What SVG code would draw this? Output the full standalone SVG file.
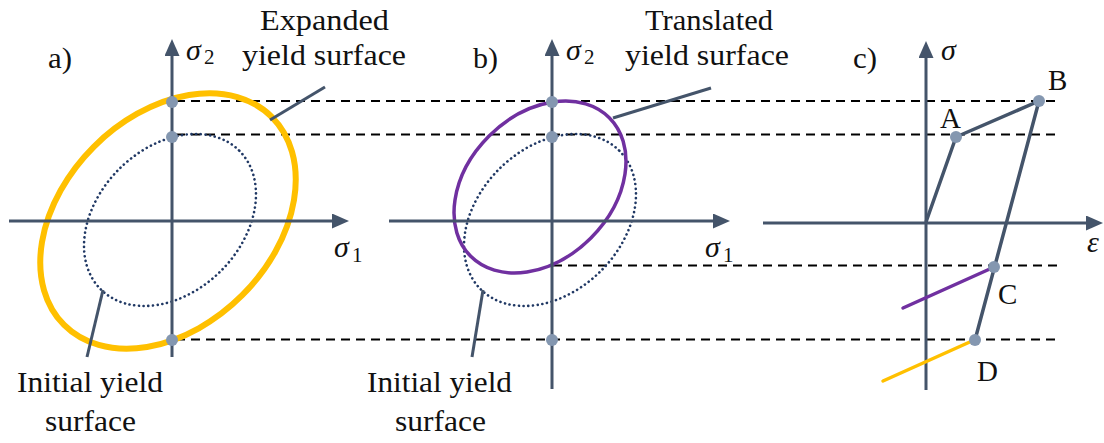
<svg xmlns="http://www.w3.org/2000/svg" width="1104" height="443" viewBox="0 0 1104 443">
<defs>
<marker id="arr" markerUnits="userSpaceOnUse" markerWidth="17" markerHeight="15" refX="8" refY="7.5" orient="auto">
<path d="M0,0 L17,7.5 L0,15 z" fill="#44546A"/>
</marker>
<style>
.ax{stroke:#44546A;stroke-width:3;fill:none}
.ld{stroke:#44546A;stroke-width:3;fill:none}
.dash{stroke:#000;stroke-width:2;stroke-dasharray:9 6;fill:none}
.dot{stroke:#203864;stroke-width:2.6;stroke-dasharray:0.1 4.6;stroke-linecap:round;fill:none}
.pt{fill:#8497B0}
.t{font-size:29px;fill:#111}
.g{font-style:italic;font-size:30px;fill:#111}
.s{font-size:21px;fill:#111}
</style>
</defs>
<rect width="1104" height="443" fill="#fff"/>

<g id="connectors">
<line class="dash" x1="176" y1="101" x2="1060" y2="101"/>
<line class="dash" x1="176" y1="134.5" x2="1060" y2="134.5"/>
<line class="dash" x1="553" y1="265.5" x2="1062" y2="265.5"/>
<line class="dash" x1="176" y1="339.5" x2="1058" y2="339.5"/>
</g>

<g id="panel-a" font-family="'Liberation Serif', 'Times New Roman', serif">
<ellipse cx="168" cy="221" rx="147" ry="105" transform="rotate(-45 168 221)" fill="none" stroke="#FFC000" stroke-width="6"/>
<ellipse class="dot" cx="170" cy="220" rx="98" ry="72" transform="rotate(-45 170 220)"/>
<line class="ax" x1="172" y1="357" x2="172" y2="48" marker-end="url(#arr)"/>
<line class="ax" x1="9" y1="221" x2="340" y2="221" marker-end="url(#arr)"/>
<line class="ld" x1="270" y1="120" x2="325" y2="87"/>
<line class="ld" x1="103" y1="290" x2="87" y2="357"/>
<circle class="pt" cx="172" cy="102" r="6"/>
<circle class="pt" cx="172" cy="137" r="6"/>
<circle class="pt" cx="172" cy="340" r="6"/>
<text class="t" x="48" y="68" textLength="24" lengthAdjust="spacingAndGlyphs">a)</text>
<text class="g" x="186" y="60">σ</text><text class="s" x="204" y="64">2</text>
<text class="g" x="334" y="257">σ</text><text class="s" x="352" y="262">1</text>
<text class="t" x="260" y="30" textLength="129" lengthAdjust="spacingAndGlyphs">Expanded</text>
<text class="t" x="242" y="65" textLength="164" lengthAdjust="spacingAndGlyphs">yield surface</text>
<text class="t" x="17" y="392" textLength="146" lengthAdjust="spacingAndGlyphs">Initial yield</text>
<text class="t" x="45" y="431" textLength="91" lengthAdjust="spacingAndGlyphs">surface</text>
</g>

<g id="panel-b" font-family="'Liberation Serif', 'Times New Roman', serif">
<ellipse class="dot" cx="550" cy="220" rx="98" ry="72" transform="rotate(-45 550 220)"/>
<ellipse cx="540" cy="187" rx="98" ry="72" transform="rotate(-45 540 187)" fill="none" stroke="#7030A0" stroke-width="3.5"/>
<line class="ax" x1="552" y1="389" x2="552" y2="48" marker-end="url(#arr)"/>
<line class="ax" x1="389" y1="221" x2="721" y2="221" marker-end="url(#arr)"/>
<line class="ld" x1="613" y1="118" x2="711" y2="88"/>
<line class="ld" x1="483" y1="290" x2="472" y2="357"/>
<circle class="pt" cx="552" cy="102" r="6"/>
<circle class="pt" cx="552" cy="137" r="6"/>
<circle class="pt" cx="552" cy="340" r="6"/>
<text class="t" x="473" y="68" textLength="25" lengthAdjust="spacingAndGlyphs">b)</text>
<text class="g" x="566" y="60">σ</text><text class="s" x="584" y="64">2</text>
<text class="g" x="705" y="257">σ</text><text class="s" x="723" y="262">1</text>
<text class="t" x="645" y="30" textLength="128" lengthAdjust="spacingAndGlyphs">Translated</text>
<text class="t" x="625" y="65" textLength="164" lengthAdjust="spacingAndGlyphs">yield surface</text>
<text class="t" x="367" y="392" textLength="145" lengthAdjust="spacingAndGlyphs">Initial yield</text>
<text class="t" x="395" y="431" textLength="91" lengthAdjust="spacingAndGlyphs">surface</text>
</g>

<g id="panel-c" font-family="'Liberation Serif', 'Times New Roman', serif">
<line class="ax" x1="926" y1="390" x2="926" y2="50" marker-end="url(#arr)"/>
<line class="ax" x1="763" y1="223" x2="1094" y2="223" marker-end="url(#arr)"/>
<line x1="992" y1="268" x2="903" y2="308" stroke="#7030A0" stroke-width="3.5" stroke-linecap="round"/>
<line x1="972" y1="341" x2="883" y2="381" stroke="#FFC000" stroke-width="3.5" stroke-linecap="round"/>
<polyline points="926,222 956,137 1039,101 975,340" fill="none" stroke="#44546A" stroke-width="3.5" stroke-linejoin="round"/>
<circle class="pt" cx="956" cy="137" r="6"/>
<circle class="pt" cx="1039" cy="101" r="6"/>
<circle class="pt" cx="994" cy="267" r="6"/>
<circle class="pt" cx="975" cy="340" r="6"/>
<text class="t" x="853" y="68" textLength="24" lengthAdjust="spacingAndGlyphs">c)</text>
<text class="g" x="941" y="60">σ</text>
<text class="g" x="1087" y="252">ε</text>
<text class="t" x="940" y="128">A</text>
<text class="t" x="1048" y="90">B</text>
<text class="t" x="998" y="304">C</text>
<text class="t" x="977" y="381">D</text>
</g>
</svg>
